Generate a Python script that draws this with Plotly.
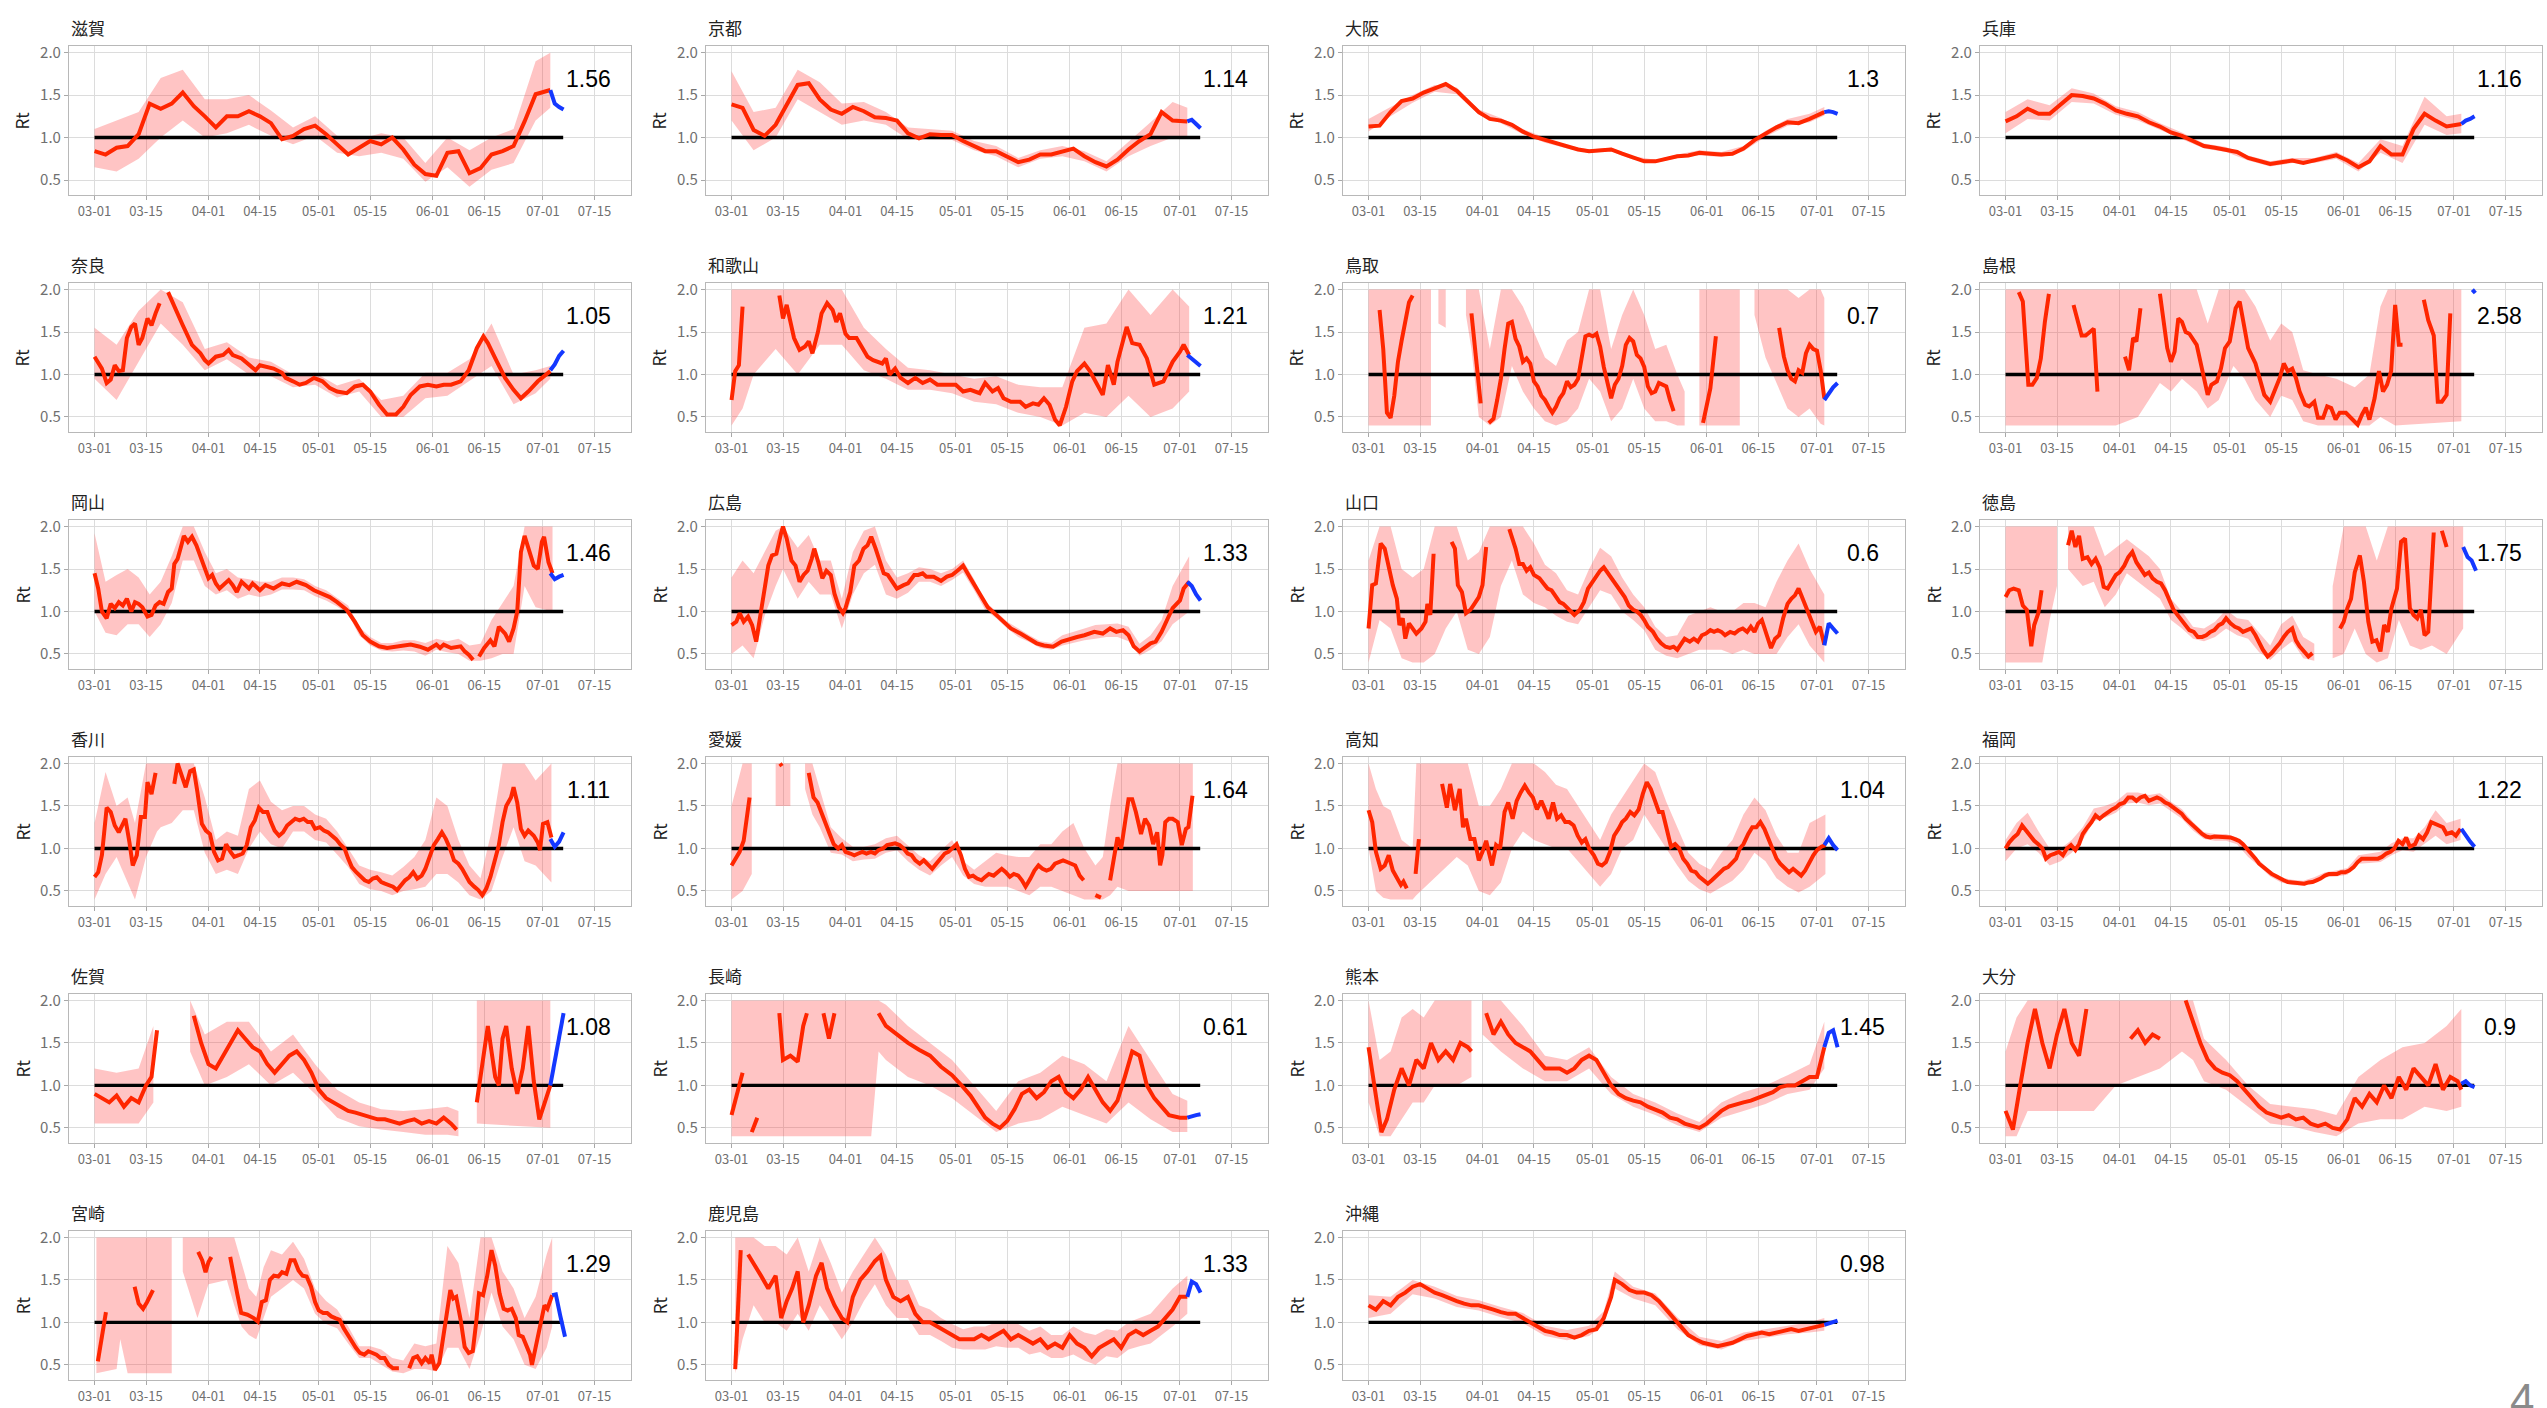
import pandas as pd
import plotly.graph_objects as go

BASE = pd.Timestamp("2020-03-01")
W, H = 2547, 1408

# ---------------- data (day offsets from 2020-03-01) ----------------
GRID = list(range(0, 121, 3)) + [124]
BAND_GRID = list(range(0, 121, 6)) + [124]
BLUE_DAYS = [124, 125.2, 126.4, 127.6]
HLINE_DAYS = [0, 127.5]
TICK_DAYS = [0, 14, 31, 45, 61, 75, 92, 106, 122, 136]
TICK_TEXT = ["03-01", "03-15", "04-01", "04-15", "05-01", "05-15", "06-01", "06-15", "07-01", "07-15"]

SHIGA_RT = [0.84,0.80,0.88,0.90,1.04,1.40,1.34,1.40,1.53,1.37,1.25,1.12,1.25,1.25,1.31,1.25,1.17,0.98,1.02,1.10,1.14,
            1.04,0.92,0.80,0.88,0.96,0.92,1.00,0.86,0.68,0.57,0.55,0.82,0.84,0.58,0.64,0.80,0.84,0.90,1.19,1.51,1.56]
SHIGA_LO = [0.65,0.60,0.75,1.00,1.20,1.00,1.05,1.15,1.02,0.92,1.02,0.82,0.78,0.82,0.75,0.48,0.65,0.42,0.62,0.70,1.20,1.35]
SHIGA_HI = [1.10,1.20,1.30,1.70,1.80,1.45,1.45,1.50,1.32,1.12,1.25,1.02,0.98,1.05,1.00,0.70,1.00,0.85,1.00,1.10,1.90,2.00]
SHIGA_BLUE = [1.56,1.40,1.36,1.33]

KYOTO_RT = [1.39,1.35,1.09,1.02,1.15,1.39,1.62,1.64,1.45,1.33,1.28,1.36,1.31,1.24,1.23,1.20,1.05,0.99,1.04,1.03,1.03,
            0.96,0.90,0.84,0.84,0.78,0.71,0.74,0.80,0.80,0.84,0.87,0.78,0.71,0.66,0.74,0.86,0.96,1.04,1.30,1.20,1.19]
KYOTO_LO = [1.20,0.85,1.00,1.45,1.30,1.15,1.20,1.15,0.98,0.98,0.97,0.85,0.78,0.65,0.75,0.78,0.72,0.60,0.78,0.90,1.00,1.00]
KYOTO_HI = [1.78,1.30,1.35,1.80,1.65,1.40,1.42,1.30,1.12,1.10,1.08,0.96,0.90,0.76,0.85,0.90,0.84,0.72,0.95,1.18,1.42,1.35]
KYOTO_BLUE = [1.19,1.21,1.16,1.11]

OSAKA_RT = [1.13,1.14,1.30,1.43,1.46,1.53,1.58,1.63,1.55,1.43,1.30,1.22,1.20,1.15,1.07,1.01,0.97,0.94,0.89,0.86,0.84,
            0.85,0.86,0.81,0.76,0.72,0.72,0.75,0.78,0.79,0.82,0.81,0.80,0.81,0.87,0.97,1.05,1.12,1.18,1.17,1.22,1.30]
OSAKA_LO = [1.07,1.25,1.41,1.54,1.51,1.27,1.17,1.04,0.94,0.87,0.82,0.84,0.74,0.70,0.76,0.79,0.77,0.84,1.01,1.14,1.18,1.26]
OSAKA_HI = [1.22,1.36,1.50,1.62,1.59,1.33,1.23,1.10,1.00,0.91,0.86,0.88,0.78,0.74,0.80,0.85,0.83,0.90,1.08,1.22,1.28,1.36]
OSAKA_BLUE = [1.30,1.31,1.30,1.28]

HYOGO_RT = [1.19,1.25,1.34,1.28,1.28,1.39,1.50,1.49,1.46,1.40,1.32,1.28,1.25,1.18,1.13,1.06,1.02,0.96,0.90,0.88,0.86,
            0.83,0.76,0.72,0.69,0.71,0.73,0.70,0.73,0.76,0.79,0.73,0.65,0.72,0.90,0.80,0.80,1.10,1.28,1.20,1.13,1.16]
HYOGO_LO = [1.05,1.22,1.20,1.42,1.40,1.27,1.20,1.09,0.98,0.87,0.83,0.73,0.66,0.70,0.70,0.75,0.60,0.82,0.70,1.15,1.03,1.05]
HYOGO_HI = [1.30,1.45,1.38,1.58,1.52,1.37,1.30,1.17,1.06,0.93,0.89,0.79,0.72,0.76,0.76,0.83,0.70,0.98,0.90,1.48,1.25,1.28]
HYOGO_BLUE = [1.16,1.20,1.22,1.25]

NARA_RT = [(0,1.21),(2,1.07),(3.3,0.90),(4.4,0.94),(5.5,1.11),(6.6,1.04),(7.7,1.05),(8.8,1.43),(10,1.56),(11,1.60),(12,1.35),
           (13,1.43),(14.4,1.66),(15.5,1.58),(16.6,1.72),(17.7,1.84),(18.5,None),(20,1.97),(22,1.77),(24,1.58),(26.5,1.35),
           (28.8,1.25),(30,1.17),(31,1.13),(33,1.21),(35,1.23),(36.5,1.29),(37.6,1.23),(40,1.19),(42,1.11),(43.8,1.05),
           (45,1.11),(46.5,1.09),(48.7,1.07),(51,1.02),(52,0.96),(54,0.92),(55.8,0.88),(57.5,0.90),(59.7,0.96),(62,0.92),
           (64,0.84),(66,0.80),(68.6,0.78),(70.8,0.86),(73,0.88),(75,0.80),(77.4,0.645),(79.6,0.53),(82,0.53),(84,0.62),
           (86,0.76),(88.5,0.86),(90.7,0.88),(93,0.86),(95,0.88),(97,0.88),(99.6,0.92),(101.8,1.05),(104,1.31),(105.8,1.45),
           (107,1.37),(109.5,1.15),(111.7,0.96),(114,0.82),(116,0.72),(118,0.80),(120.6,0.92),(124,1.04)]
NARA_LO = [0.95,0.70,1.15,1.60,1.35,1.05,1.18,1.00,0.98,0.85,0.88,0.73,0.80,0.50,0.50,0.72,0.75,0.92,1.10,0.65,0.78,0.95]
NARA_HI = [1.55,1.35,1.75,2.00,1.85,1.30,1.38,1.20,1.15,1.00,1.02,0.87,0.95,0.70,0.75,1.02,1.02,1.18,1.60,1.00,1.05,1.10]
NARA_BLUE = [1.05,1.12,1.22,1.28]

WAKAYAMA_RT = [(0,0.70),(1,1.04),(2,1.11),(3,1.80),(3.5,None),(13,1.93),(14,1.66),(15,1.82),(17,1.43),(18.5,1.29),(20,1.33),
               (21,1.39),(22,1.25),(23.5,1.50),(24.5,1.72),(26,1.84),(27.5,1.76),(28.5,1.62),(29.5,1.72),(31,1.48),(32,1.43),
               (34,1.43),(35.5,1.31),(37,1.21),(38.5,1.17),(41,1.13),(42,1.19),(43,1.00),(44.5,1.07),(46,0.96),(48,0.90),
               (50,0.96),(52,0.90),(54,0.94),(56,0.88),(59,0.88),(61,0.88),(63,0.80),(65,0.82),(67.5,0.78),(69,0.90),
               (71,0.80),(72.5,0.84),(74,0.72),(76,0.68),(78.5,0.68),(80,0.62),(82,0.66),(83.5,0.645),(85,0.72),(86.5,0.645),
               (88,0.47),(89.3,0.40),(91,0.62),(92.7,0.92),(94,1.04),(96,1.13),(97.5,1.04),(99,0.92),(101,0.76),(102.4,1.11),
               (104,0.88),(105,1.15),(107.5,1.56),(109,1.37),(111,1.35),(113,1.19),(115,0.88),(117.5,0.92),(120,1.15),
               (122,1.27),(123,1.35),(124.5,1.23)]
WAKAYAMA_BAND = [(0,0.40,2.0),(3,0.60,2.0),(6,1.00,2.0),(12,1.30,2.0),(18,1.00,2.0),(24,1.35,2.0),(30,1.35,2.0),(36,1.05,1.55),
                 (42,0.95,1.30),(48,0.82,1.08),(54,0.82,1.05),(60,0.78,1.00),(66,0.68,0.95),(72,0.65,0.98),(78,0.55,0.88),
                 (84,0.50,0.85),(90,0.40,0.85),(96,0.55,1.55),(102,0.50,1.60),(108,0.75,2.0),(114,0.50,1.70),(120,0.60,2.0),
                 (124.5,0.80,1.80)]
WAKAYAMA_BLUE = [1.23,1.19,1.14,1.10]

TOTTORI_RT = [(3,1.76),(4,1.30),(5,0.55),(6,0.49),(7,0.75),(8,1.15),(9,1.40),(10,1.60),(11,1.85),(12,1.93),(12.5,None),
              (28,1.72),(29,1.31),(30.5,0.66),(31,None),(32.7,0.43),(34,0.48),(35,0.70),(36,0.95),(37,1.30),(38,1.60),
              (39,1.62),(40,1.42),(41,1.33),(42,1.15),(43,1.19),(44,1.13),(45,0.92),(46,0.86),(47,0.75),(48,0.70),(49,0.62),
              (50,0.55),(51,0.62),(52,0.72),(53,0.78),(54,0.92),(55,0.85),(56,0.88),(57,0.95),(58,1.20),(59,1.45),(60,1.47),
              (61,1.45),(62,1.48),(63,1.33),(64,1.09),(65,0.88),(66,0.72),(67,0.88),(68,0.95),(69,1.10),(70,1.35),(71,1.43),
              (72,1.39),(73,1.23),(74,1.19),(75,1.09),(76,0.86),(77,0.78),(78,0.80),(79,0.90),(80,0.88),(81,0.86),(82,0.70),
              (83,0.57),(83.5,None),(91,0.43),(93,0.84),(94.5,1.45),(95,None),(111.7,1.55),(113,1.21),(114,1.05),(115,0.95),
              (116,0.92),(117,1.05),(118,1.02),(119,1.25),(120,1.35),(121,1.30),(122,1.28),(123,1.05),(124,0.72)]
TOTTORI_BAND = [(0,0.40,2.0),(17,0.40,2.0),(17.5,None,None),(19,1.60,2.0),(21,1.55,2.0),(21.5,None,None),(26.5,1.70,2.0),
                (28,1.30,2.0),(30,0.50,2.0),(33,0.40,1.30),(36,0.50,2.0),(39,1.10,2.0),(42,0.80,1.80),(45,0.60,1.50),
                (48,0.45,1.20),(51,0.40,1.10),(54,0.45,1.40),(57,0.60,1.50),(60,0.95,2.0),(63,0.80,2.0),(66,0.45,1.30),
                (69,0.60,1.70),(72,0.95,2.0),(75,0.60,1.70),(78,0.45,1.30),(81,0.45,1.35),(84,0.40,1.00),(86,0.40,0.80),
                (86.5,None,None),(90,0.40,2.0),(101,0.40,2.0),(101.5,None,None),(105,1.70,2.0),(108,1.20,2.0),(111,0.90,2.0),
                (114,0.60,2.0),(117,0.50,1.90),(120,0.60,2.0),(123,0.42,2.0),(124,0.40,1.90)]
TOTTORI_BLUE = [0.70,0.78,0.85,0.90]

SHIMANE_RT = [(3.6,1.97),(4.7,1.86),(6.2,0.88),(7.3,0.88),(8.5,0.96),(9.6,1.19),(10.7,1.62),(11.8,1.95),(12.2,None),
              (18.5,1.82),(19.6,1.62),(20.7,1.46),(21.8,1.46),(23,1.50),(24,1.54),(25,0.80),(25.5,None),(32.5,1.21),
              (33.6,1.05),(34.7,1.43),(35.6,1.39),(36.7,1.78),(37.2,None),(42,1.95),(43,1.58),(44,1.31),(45,1.15),(46,1.27),
              (47,1.66),(48,1.62),(49,1.50),(50,1.48),(52,1.35),(53,1.15),(54,0.96),(55,0.76),(56,0.88),(57.5,0.92),
              (58.6,1.07),(59.7,1.31),(61,1.39),(62.6,1.78),(63.7,1.86),(65,1.58),(66,1.31),(68,1.13),(69,0.96),(70.4,0.76),
              (72,0.68),(73,0.80),(74.6,0.96),(75.7,1.13),(76.8,1.04),(78,1.07),(79,0.96),(80,0.80),(81.5,0.645),
              (82.6,0.625),(84,0.68),(85,0.49),(86.4,0.49),(87.5,0.625),(88.6,0.605),(89.8,0.47),(90.9,0.55),(92.6,0.55),
              (94,0.49),(95.8,0.41),(97,0.53),(98,0.61),(99,0.47),(100.4,0.72),(101.6,1.04),(102.7,0.80),(103.8,0.88),
              (104.9,1.04),(106,1.82),(107,1.35),(108,1.35),(108.5,None),(113.8,1.88),(115,1.64),(116.5,1.46),(117.6,0.68),
              (118.7,0.68),(120,0.76),(121,1.72)]
SHIMANE_BAND = [(0,0.40,2.0),(30,0.40,2.0),(36,0.50,2.0),(42,0.90,2.0),(45,0.80,2.0),(48,0.95,2.0),(52,0.80,2.0),
                (55,0.60,1.60),(58,0.70,2.0),(62,1.10,2.0),(65,0.95,2.0),(68,0.70,1.80),(72,0.50,1.40),(75,0.75,1.60),
                (78,0.70,1.50),(81,0.45,1.05),(85,0.40,1.00),(90,0.40,0.95),(95,0.40,0.85),(99,0.40,1.00),(102,0.50,1.80),
                (104,0.45,2.0),(106,0.40,2.0),(124,0.45,2.0)]
SHIMANE_BLUE = [(127,2.0),(127.8,1.96)]

OKAYAMA_RT = [(0,1.45),(1,1.27),(2,1.00),(3.3,0.92),(4.4,1.09),(5.5,1.04),(6.6,1.11),(7.7,1.07),(8.8,1.15),(10,1.00),(11,1.11),
              (12,1.09),(13,1.05),(14.4,0.94),(15.5,0.96),(16.6,1.07),(17.7,1.11),(18.8,1.09),(20,1.23),(21,1.27),(21.7,1.56),
              (22.6,1.62),(23.5,1.76),(24.3,1.89),(25.4,1.82),(26.5,1.88),(27.7,1.78),(28.8,1.64),(30,1.50),(31,1.39),
              (32,1.43),(33,1.33),(34,1.27),(35,1.31),(36.5,1.37),(37.6,1.31),(38.7,1.23),(40,1.35),(42,1.27),(43,1.33),
              (45,1.25),(46.5,1.31),(48.7,1.27),(51,1.33),(53,1.31),(55,1.35),(57.5,1.31),(59.7,1.25),(62,1.21),(64,1.17),
              (66,1.11),(68.6,1.02),(70.8,0.88),(73,0.72),(75,0.645),(77.4,0.59),(79.6,0.57),(82,0.585),(84,0.60),(86,0.61),
              (88.5,0.585),(90.7,0.55),(93,0.61),(94,0.57),(95,0.61),(97,0.57),(99.6,0.59),(100.7,0.53),(101.8,0.49),
              (103,0.43),(103.8,None),(104.6,0.47),(106,0.57),(107.7,0.66),(108.8,0.59),(110,0.82),(111.7,0.74),(112.8,0.645),
              (114,0.80),(115,1.00),(116,1.70),(117,1.89),(118,1.74),(119.5,1.54),(120.6,1.50),(121.7,1.82),(122.3,1.88),
              (123.5,1.58),(124.6,1.45)]
OKAYAMA_BAND = [(0,1.00,1.92),(3,0.75,1.35),(6,0.72,1.43),(9,0.85,1.50),(12,0.85,1.40),(15,0.70,1.20),(18,0.85,1.35),
                (21,1.10,1.65),(24,1.60,2.00),(27,1.60,2.00),(30,1.30,1.70),(33,1.20,1.45),(36,1.25,1.50),(39,1.15,1.40),
                (42,1.20,1.38),(45,1.17,1.35),(48,1.20,1.35),(51,1.26,1.40),(54,1.26,1.40),(57,1.25,1.38),(60,1.18,1.30),
                (63,1.13,1.25),(66,1.06,1.16),(69,0.97,1.07),(72,0.72,0.82),(75,0.60,0.70),(78,0.54,0.63),(81,0.53,0.63),
                (84,0.54,0.66),(87,0.53,0.66),(90,0.48,0.63),(93,0.55,0.68),(96,0.52,0.65),(99,0.50,0.68),(102,0.42,0.60),
                (105,0.42,0.62),(108,0.45,0.90),(111,0.50,1.10),(114,0.50,1.30),(117,1.30,2.00),(120,1.05,2.00),
                (124.6,1.00,2.00)]
OKAYAMA_BLUE = [1.45,1.38,1.41,1.43]

HIROSHIMA_RT = [(0,0.84),(1.3,0.88),(2.2,0.98),(3.3,0.88),(4.5,0.94),(5.6,0.84),(6.7,0.645),(7.8,0.96),(8.9,1.27),(10,1.54),
                (11,1.66),(12.2,1.68),(13.4,1.91),(14,2.00),(15,1.86),(16.3,1.60),(17.4,1.54),(18.5,1.35),(19.6,1.43),
                (20.7,1.48),(21.8,1.62),(22.5,1.74),(23.6,1.58),(24.7,1.39),(25.8,1.48),(27,1.43),(28,1.21),(29.2,1.05),
                (30.3,0.98),(31,1.04),(32.3,1.23),(33.4,1.54),(34.7,1.60),(35.9,1.74),(37,1.78),(38,1.88),(39.2,1.74),
                (40.3,1.58),(41.4,1.45),(42.5,1.43),(43.6,1.35),(45,1.27),(46.8,1.31),(48,1.33),(49.7,1.43),(50.8,1.43),
                (52,1.45),(53,1.41),(55,1.41),(57,1.36),(58.6,1.41),(60,1.43),(62,1.50),(63,1.54),(65,1.39),(67.5,1.21),
                (69.7,1.05),(72,0.96),(74,0.88),(76,0.80),(78.6,0.74),(81,0.68),(83,0.625),(85,0.60),(87.5,0.585),
                (89.8,0.645),(92,0.68),(94,0.70),(96,0.72),(98.7,0.76),(101,0.74),(103,0.80),(104.7,0.76),(106.5,0.78),
                (108,0.72),(109.4,0.59),(111,0.53),(112.7,0.59),(114,0.625),(115.4,0.645),(117,0.76),(118.7,0.92),(120,1.04),
                (122,1.13),(123,1.27),(124.5,1.35)]
HIROSHIMA_BAND = [(0,0.50,1.40),(3,0.60,1.60),(6,0.45,1.45),(9,0.95,1.70),(12,1.30,1.95),(14,1.50,2.00),(18,1.15,1.75),
                  (21,1.35,1.90),(24,1.20,1.60),(27,1.20,1.60),(30,0.80,1.15),(33,1.20,1.70),(36,1.45,1.95),(39,1.55,2.00),
                  (42,1.20,1.60),(45,1.15,1.40),(48,1.22,1.45),(51,1.35,1.52),(54,1.35,1.50),(57,1.30,1.45),(60,1.37,1.50),
                  (63,1.46,1.60),(66,1.25,1.38),(69,1.02,1.12),(72,0.92,1.00),(75,0.80,0.88),(78,0.70,0.80),(81,0.64,0.72),
                  (84,0.57,0.65),(87,0.55,0.63),(90,0.60,0.72),(93,0.63,0.76),(96,0.66,0.80),(99,0.68,0.84),(102,0.70,0.85),
                  (105,0.70,0.86),(108,0.65,0.82),(111,0.48,0.62),(114,0.55,0.72),(117,0.65,0.90),(120,0.85,1.30),
                  (124.5,1.00,1.65)]
HIROSHIMA_BLUE = [1.35,1.30,1.20,1.13]

YAMAGUCHI_RT = [(0,0.80),(1,1.31),(2,1.33),(3.3,1.80),(4.4,1.74),(5.5,1.52),(6.6,1.31),(7.7,1.15),(8.4,0.84),(9.3,0.92),
                (10,0.68),(11,0.86),(12,0.80),(13,0.74),(14.4,0.80),(15.5,0.88),(16,1.09),(16.8,0.96),(17.7,1.68),(18.2,None),
                (22.6,1.82),(23.5,1.74),(24.3,1.31),(25.4,1.23),(26.5,0.98),(27.7,1.02),(28.8,1.09),(30,1.17),(31,1.31),
                (32,1.76),(32.5,None),(38.3,1.97),(40,1.74),(41,1.56),(42,1.56),(43,1.48),(44,1.52),(45,1.43),(46.5,1.39),
                (47.6,1.33),(48.7,1.27),(49.8,1.25),(51,1.17),(52,1.11),(53,1.09),(54,1.05),(55,1.00),(56,0.96),(57.5,1.02),
                (58.6,1.11),(59.7,1.27),(61,1.35),(62,1.43),(63,1.48),(64,1.52),(65,1.46),(66,1.39),(67.5,1.31),(68.6,1.25),
                (69.7,1.17),(70.8,1.07),(72,1.02),(73,1.00),(74,0.96),(75,0.90),(76,0.82),(77.4,0.76),(78.5,0.68),
                (79.6,0.625),(80.8,0.585),(82,0.57),(83,0.585),(84,0.55),(85,0.61),(86,0.68),(87.4,0.645),(88.5,0.68),
                (89.6,0.645),(90.7,0.72),(91.8,0.74),(93,0.78),(94,0.76),(95,0.78),(96,0.76),(97,0.72),(98.4,0.76),
                (99.6,0.74),(100.7,0.78),(101.8,0.80),(103,0.76),(104,0.82),(105,0.76),(106,0.86),(107,0.90),(108,0.76),
                (109.5,0.57),(110.6,0.68),(111.7,0.72),(112.8,0.92),(114,1.09),(115,1.15),(116,1.19),(117,1.27),(118,1.15),
                (119.5,1.00),(120.6,0.88),(121.7,0.76),(122.8,0.82),(124,0.61)]
YAMAGUCHI_BAND = [(0,0.40,1.60),(3,0.90,2.0),(6,0.80,2.0),(9,0.45,1.50),(12,0.40,1.40),(15,0.40,1.50),(18,0.50,2.0),
                  (21,0.80,2.0),(24,1.00,2.0),(27,0.55,1.60),(30,0.50,1.70),(33,0.70,2.0),(36,1.30,2.0),(39,1.60,2.0),
                  (42,1.20,2.0),(45,1.10,1.80),(48,1.05,1.55),(51,0.95,1.45),(54,0.88,1.25),(57,0.85,1.20),(60,1.05,1.50),
                  (63,1.25,1.75),(66,1.20,1.65),(69,1.00,1.40),(72,0.90,1.20),(75,0.78,1.05),(78,0.55,0.82),(81,0.48,0.70),
                  (84,0.45,0.72),(87,0.50,0.95),(90,0.55,1.00),(93,0.55,1.05),(96,0.55,1.00),(99,0.50,1.00),(102,0.55,1.10),
                  (105,0.50,1.10),(108,0.50,1.05),(111,0.50,1.35),(114,0.70,1.60),(117,0.85,1.80),(120,0.60,1.50),
                  (124,0.40,1.20)]
YAMAGUCHI_BLUE = [0.60,0.86,0.80,0.74]

TOKUSHIMA_RT = [(0,1.17),(1,1.25),(2.2,1.27),(3.6,1.25),(4.7,1.07),(5.8,1.02),(7,0.59),(7.8,0.84),(8.9,0.98),(9.8,1.25),
                (10.3,None),(17,1.78),(18,1.95),(19,1.76),(20,1.89),(21,1.62),(22.3,1.64),(23.4,1.56),(24.5,1.62),(25.6,1.52),
                (26.7,1.29),(27.8,1.27),(29,1.35),(30,1.43),(31,1.46),(32.3,1.54),(33.4,1.64),(34.5,1.70),(35.6,1.58),
                (36.7,1.50),(37.9,1.43),(39,1.46),(40,1.39),(41.2,1.35),(42.3,1.33),(43.4,1.25),(44.5,1.15),(45.7,1.02),
                (46.8,0.96),(47.9,0.90),(49,0.84),(50,0.78),(51.2,0.76),(52.3,0.70),(53.5,0.70),(54.6,0.72),(55.7,0.76),
                (56.8,0.78),(58,0.84),(59,0.86),(60,0.92),(61.2,0.86),(62.4,0.82),(63.5,0.80),(64.6,0.76),(65.7,0.78),
                (66.8,0.80),(68,0.72),(69,0.625),(70,0.55),(71.3,0.47),(72.4,0.51),(73.5,0.57),(74.6,0.625),(75.7,0.70),
                (76.8,0.76),(78,0.80),(79,0.66),(80,0.59),(81.3,0.53),(82.4,0.47),(83.5,0.51),(84,None),(91,0.80),(92,0.88),
                (93,1.04),(94,1.15),(95,1.46),(96.4,1.66),(97.5,1.35),(98.7,0.88),(99.8,0.645),(100.9,0.66),(102,0.53),
                (103,0.84),(104,0.76),(105,1.04),(106.5,1.27),(107.6,1.82),(108.7,1.86),(110,1.04),(111,0.96),(112,0.92),
                (113,1.02),(114,0.72),(115,0.76),(116.5,1.93),(117,None),(118.7,1.95),(120,1.76)]
TOKUSHIMA_BAND = [(0,0.40,2.0),(10,0.40,2.0),(12,0.90,2.0),(14,1.30,2.0),(15,None,None),(17,1.50,2.0),(21,1.30,2.0),
                  (24,1.35,2.0),(27,1.05,1.65),(30,1.20,1.75),(33,1.45,1.85),(36,1.35,1.75),(39,1.25,1.65),(42,1.15,1.50),
                  (45,0.90,1.15),(48,0.80,1.00),(51,0.68,0.82),(54,0.65,0.80),(57,0.70,0.88),(60,0.80,1.02),(63,0.72,0.92),
                  (66,0.68,0.90),(69,0.52,0.75),(72,0.43,0.60),(75,0.55,0.85),(78,0.65,0.95),(81,0.45,0.70),(84,0.42,0.62),
                  (85,None,None),(89,0.45,1.30),(92,0.50,2.0),(95,0.80,2.0),(98,0.50,2.0),(101,0.40,1.60),(104,0.45,2.0),
                  (107,0.90,2.0),(110,0.60,2.0),(113,0.55,2.0),(116,0.60,2.0),(120,0.50,2.0),(124.5,0.80,2.0)]
TOKUSHIMA_BLUE = [(124.5,1.76),(125.7,1.64),(126.8,1.60),(128,1.48)]

KAGAWA_RT = [(0,0.665),(1,0.72),(2,0.92),(3.3,1.48),(4.4,1.43),(5.5,1.27),(6.6,1.19),(7.7,1.29),(8.4,1.35),(9.5,1.07),
             (10.4,0.80),(11.5,0.92),(12.6,1.37),(13.7,1.37),(14.4,1.78),(15.5,1.64),(16.6,1.89),(17,None),(21.7,1.76),
             (22.6,2.00),(23.7,1.86),(24.8,1.72),(26,1.91),(27,1.93),(28,1.66),(29.2,1.29),(30.3,1.21),(31.4,1.17),
             (32.5,0.96),(33.6,0.86),(34.7,0.88),(35.8,1.05),(37,0.96),(38,0.90),(39.2,0.92),(40.3,0.94),(41.4,1.04),
             (42.5,1.25),(43.6,1.33),(44.7,1.48),(45.8,1.43),(47,1.43),(48,1.31),(49,1.21),(50.2,1.15),(51.3,1.19),
             (52.4,1.27),(53.5,1.31),(54.6,1.35),(55.8,1.33),(56.9,1.35),(58,1.31),(59,1.31),(60,1.23),(61.3,1.25),
             (62.4,1.21),(63.5,1.19),(64.6,1.15),(65.7,1.11),(66.8,1.05),(68,1.00),(69,0.88),(70,0.78),(71.2,0.72),
             (72.3,0.68),(73.5,0.625),(74.6,0.605),(75.7,0.645),(76.8,0.66),(78,0.605),(79,0.585),(80,0.57),(81.2,0.55),
             (82.3,0.51),(83.4,0.57),(84.5,0.625),(85.6,0.66),(86.7,0.72),(87.8,0.645),(89,0.68),(90,0.76),(91,0.88),
             (92.3,1.04),(93.4,1.11),(94.5,1.19),(95.6,1.11),(96.7,1.00),(97.8,0.86),(99,0.82),(100,0.76),(101,0.68),
             (102,0.605),(103.3,0.55),(104.4,0.51),(105.5,0.45),(106.6,0.53),(107.7,0.665),(108.8,0.84),(110,1.04),
             (111,1.31),(112,1.50),(113.3,1.60),(114,1.72),(115,1.54),(116,1.23),(117,1.15),(118,1.21),(119.5,1.15),
             (120.6,1.07),(121.2,0.98),(122,1.29),(123.2,1.31),(124.3,1.13)]
KAGAWA_BAND = [(0,0.40,1.30),(3,0.70,1.90),(6,0.90,1.50),(9,0.60,1.60),(11,0.40,1.30),(14,0.90,2.0),(17,1.20,2.0),
               (18,1.25,2.0),(21,1.30,2.0),(24,1.45,2.0),(27,1.45,2.0),(30,0.95,1.60),(33,0.70,1.10),(36,0.75,1.20),
               (39,0.70,1.15),(42,1.00,1.70),(45,1.20,1.80),(48,1.05,1.55),(51,1.00,1.45),(54,1.20,1.50),(57,1.20,1.50),
               (60,1.10,1.40),(63,1.07,1.35),(66,0.93,1.20),(69,0.78,1.00),(72,0.58,0.80),(75,0.52,0.75),(78,0.50,0.72),
               (81,0.45,0.68),(84,0.50,0.78),(87,0.52,0.90),(90,0.55,1.10),(93,0.70,1.60),(96,0.70,1.50),(99,0.60,1.10),
               (102,0.45,0.80),(105,0.40,0.65),(108,0.50,1.20),(111,0.90,2.0),(114,1.25,2.0),(117,0.85,2.0),(120,0.80,1.80),
               (124.3,0.60,2.0)]
KAGAWA_BLUE = [1.11,1.02,1.08,1.19]

EHIME_RT = [(0,0.80),(1,0.88),(2.2,0.96),(3.3,1.09),(4,1.31),(4.9,1.60),(5.2,None),(13.2,2.0),(13.7,1.97),(14,None),(21,1.89),
            (22.3,1.60),(23.4,1.54),(24.5,1.41),(25.6,1.27),(26.7,1.17),(27.8,1.05),(29,1.00),(30,1.04),(31,0.96),(32.3,0.94),
            (33.4,0.92),(34.5,0.94),(35.6,0.96),(36.7,0.94),(37.9,0.96),(39,0.94),(40,0.98),(41.2,1.00),(42.3,1.04),
            (43.4,1.05),(44.5,1.06),(45.7,1.04),(46.8,1.00),(47.9,0.94),(49,0.92),(50,0.86),(51.2,0.82),(52.3,0.86),
            (53.5,0.80),(54.6,0.76),(55.7,0.82),(56.8,0.88),(58,0.94),(59,0.96),(60,1.00),(61.2,1.05),(62.4,0.92),(63.5,0.76),
            (64.6,0.665),(65.7,0.68),(66.8,0.645),(68,0.625),(69,0.665),(70,0.70),(71.3,0.68),(72.4,0.72),(73.5,0.76),
            (74.6,0.72),(75.7,0.665),(76.8,0.70),(78,0.68),(79,0.625),(80,0.55),(81.3,0.645),(82.4,0.74),(83.5,0.80),
            (84.6,0.76),(85.7,0.74),(86.9,0.76),(88,0.82),(89,0.84),(90.2,0.86),(91.3,0.84),(92.4,0.82),(93.5,0.80),
            (94.7,0.68),(95.8,0.625),(96.3,None),(99,0.45),(100.5,0.42),(101,None),(103,0.625),(104,0.88),(105,1.13),
            (106,1.00),(107,1.31),(108,1.58),(109,1.58),(110,1.43),(111.4,1.17),(112.5,1.35),(113.6,1.27),(114.7,1.05),
            (115.8,1.19),(116.6,0.80),(117.2,0.92),(118,1.31),(119,1.35),(120,1.35),(121.4,1.31),(122.5,1.04),(123.6,1.23),
            (124.3,1.25),(125.4,1.62)]
EHIME_BAND = [(0,0.40,1.50),(3,0.50,2.0),(5.5,0.70,2.0),(6,None,None),(12,1.50,2.0),(16,1.50,2.0),(16.5,None,None),
              (20,1.70,2.0),(22,1.40,2.0),(24,1.25,1.70),(27,0.95,1.25),(30,0.93,1.12),(33,0.85,1.02),(36,0.87,1.02),
              (39,0.88,1.05),(42,0.95,1.12),(45,0.98,1.15),(48,0.85,1.03),(51,0.75,0.92),(54,0.68,0.85),(57,0.80,0.98),
              (60,0.90,1.10),(63,0.68,0.85),(66,0.58,0.75),(69,0.55,0.85),(72,0.55,0.95),(75,0.55,0.92),(78,0.50,0.90),
              (81,0.45,0.90),(84,0.55,1.05),(87,0.55,1.05),(90,0.50,1.20),(93,0.45,1.30),(96,0.40,1.00),(99,0.40,0.80),
              (101,0.40,0.90),(103,0.45,1.50),(105,0.55,2.0),(108,0.50,2.0),(125.5,0.50,2.0)]
EHIME_BLUE = []

KOCHI_RT = [(0,1.45),(1,1.31),(2,0.96),(3.3,0.76),(4.4,0.80),(5.5,0.92),(6.6,0.74),(7.7,0.665),(8.8,0.57),(9.5,0.61),
            (10.4,0.53),(11,None),(12.8,0.70),(13.7,1.11),(14,None),(20,1.76),(21.3,1.48),(22.2,1.76),(23.5,1.45),(24.8,1.70),
            (25.7,1.25),(26.5,1.35),(27.7,1.11),(28.8,1.11),(30,0.86),(31,0.96),(32,1.09),(32.7,0.96),(33.6,0.80),
            (34.7,1.04),(35.8,1.00),(37,1.43),(38,1.54),(39.2,1.35),(40.3,1.56),(41.4,1.66),(42.5,1.74),(43.6,1.66),
            (44.7,1.60),(45.8,1.46),(47,1.56),(48,1.46),(49,1.35),(50.2,1.54),(51.3,1.35),(52.4,1.39),(53.5,1.31),
            (54.6,1.31),(55.8,1.27),(56.9,1.15),(58,1.07),(59,1.11),(60,1.00),(61.3,0.92),(62.4,0.82),(63.5,0.80),
            (64.6,0.84),(65.7,0.96),(66.8,1.15),(68,1.23),(69,1.31),(70,1.35),(71.2,1.43),(72.3,1.39),(73.5,1.46),
            (74.6,1.64),(75.7,1.78),(76.8,1.70),(78,1.54),(79,1.43),(80,1.43),(81.2,1.23),(82.3,1.02),(83.4,1.05),
            (84.5,1.00),(85.6,0.88),(86.7,0.82),(87.8,0.74),(89,0.72),(90,0.665),(91,0.625),(92.3,0.585),(93.4,0.625),
            (94.5,0.665),(95.6,0.72),(96.7,0.76),(97.8,0.78),(99,0.84),(100,0.88),(101,1.00),(102,1.05),(103.3,1.17),
            (104.4,1.25),(105.5,1.25),(106.6,1.31),(107.7,1.23),(108.8,1.11),(110,0.96),(111,0.88),(112,0.82),(113.3,0.76),
            (114.4,0.72),(115.5,0.76),(116.6,0.72),(117.7,0.68),(118.8,0.74),(120,0.84),(121,0.92),(122,0.98),(123.2,1.02),
            (124.3,1.04)]
KOCHI_BAND = [(0,1.00,2.0),(2,0.50,1.70),(4,0.42,1.50),(6,0.40,1.45),(9,0.40,1.10),(12,0.40,1.00),(13,0.45,2.0),(24,0.90,2.0),
              (27,0.80,2.0),(30,0.50,1.50),(33,0.45,1.50),(36,0.60,1.70),(39,1.00,2.0),(42,1.20,2.0),(45,1.10,2.0),
              (48,1.05,1.90),(51,1.00,1.75),(54,1.00,1.70),(57,0.85,1.50),(60,0.70,1.30),(63,0.55,1.10),(66,0.70,1.40),
              (69,1.00,1.60),(72,1.10,1.80),(75,1.40,2.0),(78,1.20,1.90),(81,1.00,1.55),(84,0.80,1.25),(87,0.62,0.95),
              (90,0.52,0.82),(93,0.47,0.75),(96,0.55,0.95),(99,0.62,1.10),(102,0.75,1.40),(105,0.95,1.60),(108,0.85,1.45),
              (111,0.65,1.15),(114,0.55,0.95),(117,0.48,0.95),(120,0.55,1.30),(124.3,0.70,1.40)]
KOCHI_BLUE = [1.04,1.12,1.04,0.98]

FUKUOKA_RT = [(0,1.00),(1,1.07),(2.2,1.13),(3.3,1.17),(4.5,1.27),(5.6,1.21),(6.7,1.15),(7.8,1.09),(8.9,1.05),(10,1.00),
              (11,0.88),(12.2,0.92),(13.4,0.94),(14.5,0.96),(15.6,0.92),(16.7,1.00),(17.8,1.04),(19,0.98),(20,1.05),
              (21,1.17),(22.3,1.25),(23.4,1.31),(24.5,1.39),(25.6,1.35),(26.7,1.39),(27.8,1.43),(29,1.46),(30,1.48),
              (31,1.52),(32.3,1.54),(33.4,1.60),(34.5,1.60),(35.6,1.56),(36.7,1.60),(37.9,1.62),(39,1.56),(40,1.58),
              (41.2,1.60),(42.3,1.58),(43.4,1.54),(44.5,1.52),(45.7,1.48),(46.8,1.45),(47.9,1.41),(49,1.35),(50,1.31),
              (51.2,1.25),(52.3,1.21),(53.5,1.17),(54.6,1.14),(55.7,1.13),(56.8,1.14),(58,1.14),(59,1.13),(60,1.14),
              (61.2,1.13),(62.4,1.11),(63.5,1.09),(64.6,1.05),(65.7,1.00),(66.8,0.94),(68,0.88),(69,0.82),(70,0.78),
              (71.3,0.74),(72.4,0.70),(73.5,0.675),(74.6,0.645),(75.7,0.625),(76.8,0.605),(78,0.60),(79,0.595),(80,0.60),
              (81.3,0.585),(82.4,0.60),(83.5,0.605),(84.6,0.625),(85.7,0.645),(86.9,0.68),(88,0.70),(89,0.70),(90.2,0.70),
              (91.3,0.72),(92.4,0.72),(93.5,0.74),(94.7,0.78),(95.8,0.84),(96.9,0.88),(98,0.88),(99,0.88),(100.2,0.88),
              (101.3,0.88),(102.4,0.90),(103.6,0.94),(104.7,0.96),(105.8,1.00),(106.9,1.09),(108,1.05),(109,1.13),
              (110,1.02),(111.4,1.05),(112.5,1.15),(113.6,1.11),(114.7,1.19),(115.8,1.31),(117,1.29),(118,1.27),
              (119,1.25),(120,1.17),(121.4,1.19),(122.5,1.15),(123.8,1.23)]
FUKUOKA_BAND = [(0,0.85,1.10),(3,1.00,1.30),(6,1.05,1.42),(9,0.95,1.20),(12,0.80,1.00),(15,0.85,1.00),(18,0.95,1.10),
                (21,1.10,1.25),(24,1.32,1.47),(27,1.36,1.50),(30,1.42,1.55),(33,1.53,1.66),(36,1.54,1.66),(39,1.51,1.63),
                (42,1.53,1.65),(45,1.44,1.55),(48,1.35,1.46),(51,1.21,1.31),(54,1.11,1.19),(57,1.09,1.17),(60,1.09,1.17),
                (63,1.05,1.13),(66,0.90,0.98),(69,0.79,0.86),(72,0.67,0.74),(75,0.60,0.66),(78,0.57,0.63),(81,0.56,0.62),
                (84,0.59,0.66),(87,0.66,0.72),(90,0.67,0.74),(93,0.69,0.77),(96,0.82,0.92),(99,0.83,0.94),(102,0.84,0.96),
                (105,0.92,1.06),(108,0.98,1.12),(111,0.96,1.12),(114,1.05,1.25),(117,1.15,1.45),(120,1.05,1.30),
                (123.8,1.10,1.35)]
FUKUOKA_BLUE = [1.23,1.15,1.08,1.02]

SAGA_RT = [(0,0.90),(2,0.85),(4,0.80),(6,0.88),(8,0.75),(10,0.85),(12,0.80),(14,1.00),(15.5,1.10),(17,1.65),(17.5,None),
           (27,1.82),(29,1.50),(31,1.25),(33,1.20),(35,1.35),(37,1.50),(39,1.65),(41,1.55),(43,1.45),(45,1.40),(47,1.25),
           (49,1.15),(51,1.25),(53,1.35),(55,1.40),(57,1.30),(59,1.15),(61,0.95),(63,0.85),(65,0.80),(67,0.75),(69,0.70),
           (71,0.68),(73,0.65),(75,0.62),(77,0.60),(79,0.60),(81,0.57),(83,0.55),(85,0.58),(87,0.60),(89,0.55),(91,0.58),
           (93,0.55),(95,0.62),(97,0.55),(98.5,0.48),(99,None),(104,0.80),(106,1.40),(107,1.70),(109,1.10),(110,1.00),
           (111,1.55),(112,1.70),(113.5,1.20),(115,0.90),(116.5,1.20),(118,1.70),(119.5,1.05),(121,0.60),(122.5,0.80),
           (124,1.00)]
SAGA_BAND = [(0,0.55,1.20),(6,0.55,1.15),(12,0.55,1.20),(16,0.80,1.70),(17.5,None,None),(26,1.40,2.0),(30,1.00,1.60),
             (36,1.10,1.75),(42,1.25,1.75),(48,1.00,1.40),(54,1.15,1.60),(60,0.90,1.25),(66,0.62,0.95),(72,0.52,0.80),
             (78,0.48,0.72),(84,0.45,0.70),(90,0.42,0.72),(96,0.42,0.75),(99,0.40,0.70),(100,None,None),(104,0.55,2.0),
             (124,0.50,2.0)]
SAGA_BLUE = [1.00,1.30,1.58,1.85]

NAGASAKI_RT = [(0,0.65),(1.5,0.90),(3,1.15),(3.5,None),(5.5,0.45),(7,0.62),(7.5,None),(13,1.85),(14,1.30),(16,1.35),
               (18,1.28),(19.5,1.70),(20.5,1.85),(21,None),(25,1.85),(26.5,1.55),(28,1.85),(28.5,None),(40,1.85),(42,1.70),
               (45,1.60),(48,1.50),(51,1.42),(54,1.35),(57,1.22),(60,1.12),(63,0.98),(65,0.88),(67,0.75),(69,0.62),(71,0.55),
               (73,0.50),(75,0.58),(77,0.72),(79,0.90),(81,0.95),(83,0.85),(85,0.92),(87,1.05),(89,1.10),(91,0.92),(93,0.85),
               (95,0.95),(97,1.10),(99,0.95),(101,0.80),(103,0.70),(105,0.82),(107,1.10),(109,1.40),(111,1.35),(113,1.00),
               (115,0.85),(117,0.75),(119,0.65),(122,0.62),(124,0.62)]
NAGASAKI_BAND = [(0,0.40,2.0),(38,0.40,2.0),(40,1.40,2.0),(42,1.30,1.95),(48,1.10,1.70),(54,1.00,1.50),(60,0.85,1.30),
                 (66,0.65,1.00),(72,0.45,0.70),(78,0.55,1.05),(84,0.60,1.15),(90,0.75,1.35),(96,0.65,1.25),(102,0.55,1.05),
                 (108,0.80,1.70),(114,0.60,1.30),(120,0.45,0.90),(124,0.45,0.82)]
NAGASAKI_BLUE = [0.62,0.64,0.65,0.66]

KUMAMOTO_RT = [(0,1.45),(2,0.90),(3.5,0.45),(5,0.60),(7,0.95),(9,1.20),(11,1.00),(13,1.30),(15,1.20),(17,1.50),(19,1.30),
               (21,1.40),(23,1.30),(25,1.50),(27,1.45),(28,1.40),(29,None),(32,1.85),(34,1.60),(36,1.75),(38,1.60),(40,1.50),
               (42,1.45),(44,1.40),(46,1.30),(48,1.20),(50,1.20),(52,1.20),(54,1.15),(56,1.20),(58,1.30),(60,1.35),(62,1.30),
               (64,1.15),(66,1.00),(68,0.90),(70,0.85),(72,0.82),(74,0.80),(76,0.75),(78,0.72),(80,0.68),(82,0.62),(84,0.60),
               (86,0.55),(88,0.52),(90,0.50),(92,0.55),(94,0.62),(96,0.70),(98,0.75),(100,0.78),(102,0.80),(104,0.82),
               (106,0.85),(108,0.88),(110,0.92),(112,0.98),(114,1.00),(116,1.00),(118,1.05),(120,1.10),(122,1.10),(124,1.45)]
KUMAMOTO_BAND = [(0,0.80,2.0),(3,0.40,1.30),(6,0.40,1.40),(9,0.60,1.80),(12,0.80,1.90),(15,0.80,1.80),(18,1.00,2.0),
                 (24,1.00,2.0),(28,1.10,2.0),(29,None,None),(31,1.60,2.0),(36,1.40,2.0),(42,1.20,1.70),(48,1.05,1.35),
                 (54,1.05,1.30),(60,1.20,1.45),(66,0.90,1.10),(72,0.75,0.90),(78,0.65,0.80),(84,0.53,0.67),(90,0.45,0.57),
                 (96,0.62,0.80),(102,0.70,0.92),(108,0.78,1.00),(114,0.90,1.12),(120,0.95,1.25),(124,1.20,1.75)]
KUMAMOTO_BLUE = [1.45,1.62,1.65,1.45]

OITA_RT = [(0,0.70),(2,0.48),(4,1.00),(6,1.50),(8,1.90),(10,1.50),(12,1.20),(14,1.60),(16,1.90),(18,1.50),(20,1.35),(22,1.90),
           (22.5,None),(34,1.55),(36,1.65),(38,1.50),(40,1.60),(42,1.55),(42.5,None),(49,2.00),(51,1.75),(53,1.50),(55,1.30),
           (57,1.20),(59,1.15),(61,1.12),(63,1.05),(65,0.95),(67,0.85),(69,0.75),(71,0.68),(73,0.65),(75,0.62),(77,0.65),
           (79,0.60),(81,0.62),(83,0.55),(85,0.52),(87,0.55),(89,0.50),(91,0.48),(93,0.60),(95,0.85),(97,0.75),(99,0.90),
           (101,0.80),(103,1.00),(105,0.85),(107,1.10),(109,0.95),(111,1.20),(113,1.10),(115,1.00),(117,1.25),(119,0.95),
           (121,1.10),(123,1.05),(124,0.95)]
OITA_BAND = [(0,0.40,1.40),(3,0.40,1.80),(6,0.70,2.0),(24,0.70,2.0),(30,1.00,2.0),(36,1.10,2.0),(42,1.20,2.0),(48,1.40,2.0),
             (51,1.30,2.0),(54,1.05,1.55),(60,0.95,1.30),(66,0.75,1.00),(72,0.55,0.78),(78,0.52,0.75),(84,0.45,0.72),
             (90,0.40,0.65),(96,0.55,1.10),(102,0.60,1.30),(108,0.60,1.45),(114,0.75,1.50),(120,0.70,1.70),(124,0.75,1.90)]
OITA_BLUE = [1.02,1.05,1.00,0.98]

MIYAZAKI_RT = [(0.9,0.54),(3.1,1.12),(3.5,None),(10.9,1.42),(12,1.22),(13.2,1.16),(14.3,1.24),(15.9,1.38),(16.5,None),
               (28.2,1.83),(29.3,1.73),(30.2,1.59),(31,1.71),(31.8,1.77),(32.3,None),(36.9,1.77),(38,1.50),(38.8,1.34),
               (39.9,1.11),(41.6,1.09),(43.3,1.05),(44.4,1.01),(45.5,1.24),(46.6,1.26),(47.7,1.50),(48.8,1.55),(50,1.54),
               (51,1.59),(52.2,1.57),(53.3,1.73),(54.4,1.73),(55.5,1.61),(56.6,1.55),(57.7,1.54),(58.9,1.42),(60,1.24),
               (61,1.14),(62.2,1.11),(63.3,1.11),(64.4,1.07),(65.5,1.05),(66.7,1.03),(67.8,0.93),(68.9,0.85),(70,0.77),
               (71.1,0.70),(72.2,0.64),(73.4,0.62),(74.5,0.66),(75.6,0.64),(76.7,0.62),(77.8,0.58),(78.9,0.58),(80,0.50),
               (81.2,0.46),(82.8,0.46),(83.5,None),(85.6,0.46),(86.7,0.58),(87.8,0.60),(89,0.52),(90,0.58),(91.2,0.52),
               (91.7,0.62),(92.6,0.44),(93.8,0.52),(94.9,0.83),(96,1.16),(96.8,1.38),(97.6,1.28),(98.4,1.30),(99.6,1.03),
               (100.7,0.71),(101.8,0.64),(102.9,0.66),(103.8,0.99),(104.6,1.34),(105.7,1.32),(106.8,1.54),(108,1.85),
               (109,1.67),(110.2,1.34),(111.3,1.16),(112.4,1.14),(113.5,1.16),(114.6,1.05),(115.4,0.85),(116.5,0.83),
               (117.6,0.70),(118.5,0.62),(119,0.50),(120.2,0.75),(121.3,0.99),(122.4,1.20),(123.2,1.16),(124.5,1.32)]
MIYAZAKI_BAND = [(0.5,0.40,2.0),(6,0.45,2.0),(7,0.80,2.0),(9,0.40,2.0),(21,0.40,2.0),(21.5,None,None),(24,1.60,2.0),
                 (28,1.05,2.0),(31,1.45,2.0),(36,1.50,2.0),(38,1.20,2.0),(40,0.95,1.70),(42,0.85,1.40),(44,0.80,1.30),
                 (46,1.05,1.65),(48,1.30,1.85),(51,1.40,1.80),(54,1.50,1.95),(57,1.40,1.75),(60,1.10,1.40),(63,0.98,1.25),
                 (66,0.93,1.15),(69,0.75,0.95),(72,0.58,0.72),(75,0.58,0.72),(78,0.50,0.68),(81,0.42,0.58),(84,0.40,0.55),
                 (87,0.45,0.75),(90,0.45,0.72),(93,0.42,0.75),(96,0.70,1.90),(99,0.70,1.70),(102,0.45,1.05),(105,0.85,2.0),
                 (108,1.35,2.0),(111,0.95,1.60),(114,0.80,1.40),(117,0.50,1.05),(120,0.45,1.30),(123,0.70,1.80),
                 (124.5,0.95,2.0)]
MIYAZAKI_BLUE = [(124.5,1.32),(125.5,1.33),(126.7,1.08),(128,0.83)]

KAGOSHIMA_RT = [(1,0.45),(2.5,1.85),(3,None),(4.5,1.80),(6,1.70),(8,1.55),(10,1.40),(12,1.55),(13.5,1.05),(15,1.25),
                (16.5,1.40),(18,1.60),(19.5,1.00),(21,1.20),(23,1.55),(24.5,1.70),(26,1.40),(28,1.20),(30,1.05),(31.5,1.00),
                (33,1.30),(35,1.50),(37,1.60),(39,1.72),(40.5,1.78),(42,1.50),(44,1.30),(46,1.25),(48,1.30),(50,1.10),
                (52,1.00),(54,1.00),(56,0.95),(58,0.90),(60,0.85),(62,0.80),(64,0.80),(66,0.80),(68,0.85),(70,0.80),(72,0.85),
                (74,0.90),(76,0.80),(78,0.85),(80,0.80),(82,0.75),(84,0.80),(86,0.70),(88,0.75),(90,0.70),(92,0.85),(94,0.75),
                (96,0.70),(98,0.60),(100,0.70),(102,0.75),(104,0.80),(106,0.70),(108,0.85),(110,0.90),(112,0.85),(114,0.90),
                (116,0.95),(118,1.05),(120,1.15),(122,1.30),(124,1.30)]
KAGOSHIMA_BAND = [(1,0.40,2.0),(3,0.80,2.0),(6,1.20,2.0),(9,1.00,1.90),(12,1.00,1.90),(15,0.90,1.80),(18,1.10,2.0),
                  (21,0.90,1.60),(24,1.20,2.0),(27,1.00,1.70),(30,0.80,1.35),(33,1.00,1.60),(36,1.25,1.80),(39,1.45,2.0),
                  (42,1.20,1.80),(45,1.05,1.50),(48,1.05,1.50),(51,0.85,1.20),(54,0.85,1.15),(57,0.78,1.05),(60,0.70,0.98),
                  (63,0.68,0.92),(66,0.68,0.95),(69,0.68,0.95),(72,0.72,1.00),(75,0.70,0.98),(78,0.70,0.98),(81,0.62,0.90),
                  (84,0.65,0.95),(87,0.58,0.85),(90,0.58,0.85),(93,0.62,0.95),(96,0.55,0.88),(99,0.50,0.85),(102,0.60,0.92),
                  (105,0.58,0.90),(108,0.68,1.00),(111,0.72,1.05),(114,0.75,1.10),(117,0.85,1.25),(120,0.95,1.40),
                  (124,1.10,1.55)]
KAGOSHIMA_BLUE = [1.30,1.48,1.45,1.35]

OKINAWA_RT = [(0,1.20),(2,1.15),(4,1.25),(6,1.20),(8,1.30),(10,1.35),(12,1.42),(14,1.45),(16,1.40),(18,1.35),(20,1.32),
              (22,1.28),(24,1.25),(26,1.22),(28,1.20),(30,1.20),(32,1.18),(34,1.15),(36,1.12),(38,1.10),(40,1.10),(42,1.05),
              (44,1.00),(46,0.95),(48,0.90),(50,0.88),(52,0.85),(54,0.85),(56,0.82),(58,0.85),(60,0.90),(62,0.92),(64,1.05),
              (66,1.30),(67,1.50),(69,1.45),(71,1.38),(73,1.35),(75,1.35),(77,1.32),(79,1.25),(81,1.15),(83,1.05),(85,0.95),
              (87,0.85),(89,0.80),(91,0.76),(93,0.74),(95,0.72),(97,0.74),(99,0.76),(101,0.80),(103,0.84),(105,0.86),
              (107,0.88),(109,0.86),(111,0.88),(113,0.90),(115,0.92),(117,0.90),(119,0.92),(121,0.95),(123,0.96),(124,0.97)]
OKINAWA_BAND = [(0,1.05,1.32),(6,1.10,1.30),(12,1.33,1.50),(18,1.28,1.42),(24,1.18,1.31),(30,1.14,1.26),(36,1.06,1.18),
                (42,0.99,1.11),(48,0.84,0.96),(54,0.79,0.91),(60,0.84,0.96),(64,0.97,1.13),(67,1.40,1.60),(72,1.28,1.42),
                (78,1.20,1.34),(84,0.92,1.06),(90,0.73,0.83),(96,0.68,0.78),(102,0.78,0.88),(108,0.82,0.92),(114,0.86,0.96),
                (120,0.88,1.00),(124,0.90,1.05)]
OKINAWA_BLUE = [0.97,0.99,1.01,1.02]

NAMES = ["滋賀", "京都", "大阪", "兵庫", "奈良", "和歌山", "鳥取", "島根", "岡山", "広島", "山口", "徳島",
         "香川", "愛媛", "高知", "福岡", "佐賀", "長崎", "熊本", "大分", "宮崎", "鹿児島", "沖縄"]
LABELS = ["1.56", "1.14", "1.3", "1.16", "1.05", "1.21", "0.7", "2.58", "1.46", "1.33", "0.6", "1.75",
          "1.11", "1.64", "1.04", "1.22", "1.08", "0.61", "1.45", "0.9", "1.29", "1.33", "0.98"]


def grid_pairs(vals):
    return list(zip(GRID, vals))


def band_grid(lo, hi):
    return list(zip(BAND_GRID, lo, hi))


def blue_pairs(vals):
    if vals and isinstance(vals[0], tuple):
        return vals
    return list(zip(BLUE_DAYS, vals))


SERIES = [
    (grid_pairs(SHIGA_RT), band_grid(SHIGA_LO, SHIGA_HI), blue_pairs(SHIGA_BLUE)),
    (grid_pairs(KYOTO_RT), band_grid(KYOTO_LO, KYOTO_HI), blue_pairs(KYOTO_BLUE)),
    (grid_pairs(OSAKA_RT), band_grid(OSAKA_LO, OSAKA_HI), blue_pairs(OSAKA_BLUE)),
    (grid_pairs(HYOGO_RT), band_grid(HYOGO_LO, HYOGO_HI), blue_pairs(HYOGO_BLUE)),
    (NARA_RT, band_grid(NARA_LO, NARA_HI), blue_pairs(NARA_BLUE)),
    (WAKAYAMA_RT, WAKAYAMA_BAND, blue_pairs(WAKAYAMA_BLUE)),
    (TOTTORI_RT, TOTTORI_BAND, blue_pairs(TOTTORI_BLUE)),
    (SHIMANE_RT, SHIMANE_BAND, blue_pairs(SHIMANE_BLUE)),
    (OKAYAMA_RT, OKAYAMA_BAND, blue_pairs(OKAYAMA_BLUE)),
    (HIROSHIMA_RT, HIROSHIMA_BAND, blue_pairs(HIROSHIMA_BLUE)),
    (YAMAGUCHI_RT, YAMAGUCHI_BAND, blue_pairs(YAMAGUCHI_BLUE)),
    (TOKUSHIMA_RT, TOKUSHIMA_BAND, blue_pairs(TOKUSHIMA_BLUE)),
    (KAGAWA_RT, KAGAWA_BAND, blue_pairs(KAGAWA_BLUE)),
    (EHIME_RT, EHIME_BAND, blue_pairs(EHIME_BLUE)),
    (KOCHI_RT, KOCHI_BAND, blue_pairs(KOCHI_BLUE)),
    (FUKUOKA_RT, FUKUOKA_BAND, blue_pairs(FUKUOKA_BLUE)),
    (SAGA_RT, SAGA_BAND, blue_pairs(SAGA_BLUE)),
    (NAGASAKI_RT, NAGASAKI_BAND, blue_pairs(NAGASAKI_BLUE)),
    (KUMAMOTO_RT, KUMAMOTO_BAND, blue_pairs(KUMAMOTO_BLUE)),
    (OITA_RT, OITA_BAND, blue_pairs(OITA_BLUE)),
    (MIYAZAKI_RT, MIYAZAKI_BAND, blue_pairs(MIYAZAKI_BLUE)),
    (KAGOSHIMA_RT, KAGOSHIMA_BAND, blue_pairs(KAGOSHIMA_BLUE)),
    (OKINAWA_RT, OKINAWA_BAND, blue_pairs(OKINAWA_BLUE)),
]


def dt(d):
    return (BASE + pd.Timedelta(days=float(d))).strftime("%Y-%m-%d %H:%M:%S")


def band_polygons(band):
    xs, ys, seg = [], [], []

    def flush():
        if len(seg) >= 2:
            xs.extend([dt(s[0]) for s in seg] + [dt(s[0]) for s in reversed(seg)])
            ys.extend([s[1] for s in seg] + [s[2] for s in reversed(seg)])
            xs.append(None)
            ys.append(None)
        seg.clear()

    for d, lo, hi in band:
        if lo is None or hi is None:
            flush()
        else:
            seg.append((d, lo, hi))
    flush()
    return xs, ys


# ---------------- layout geometry (pixels) ----------------
COL_LEFT = [69, 706, 1343, 1980]
PLOT_W = 562
ROW_TOP0, ROW_PITCH, PLOT_H = 41, 237.8, 150

RED = "#FF2600"
BLUE = "#1438FF"
PINK = "rgba(255,60,60,0.30)"
FONT = "Noto Sans CJK JP"

fig = go.Figure()
layout = dict(width=W, height=H, margin=dict(l=0, r=0, t=0, b=0), paper_bgcolor="white",
              plot_bgcolor="white", showlegend=False, annotations=[])

for i, (name, label, (rt, band, blue)) in enumerate(zip(NAMES, LABELS, SERIES)):
    r, c = divmod(i, 4)
    left = COL_LEFT[c]
    top = ROW_TOP0 + ROW_PITCH * r
    n = i + 1
    xa, ya = f"x{n}", f"y{n}"
    xk, yk = ("xaxis" if n == 1 else f"xaxis{n}"), ("yaxis" if n == 1 else f"yaxis{n}")

    bx, by = band_polygons(band)
    fig.add_trace(go.Scatter(x=bx, y=by, fill="toself", fillcolor=PINK, line=dict(width=0),
                             mode="lines", hoverinfo="skip", xaxis=xa, yaxis=ya))
    fig.add_trace(go.Scatter(x=[dt(d) for d in HLINE_DAYS], y=[1, 1], mode="lines",
                             line=dict(color="black", width=3.4), xaxis=xa, yaxis=ya))
    fig.add_trace(go.Scatter(x=[dt(d) for d, _ in rt], y=[v for _, v in rt], mode="lines",
                             line=dict(color=RED, width=4.0), connectgaps=False, xaxis=xa, yaxis=ya))
    if blue:
        fig.add_trace(go.Scatter(x=[dt(d) for d, _ in blue], y=[v for _, v in blue], mode="lines",
                                 line=dict(color=BLUE, width=4.0), xaxis=xa, yaxis=ya))

    layout[xk] = dict(domain=[left / W, (left + PLOT_W) / W], anchor=ya, type="date",
                      range=[dt(-6.95), dt(145.95)], tickvals=[dt(d) for d in TICK_DAYS], ticktext=TICK_TEXT,
                      showgrid=True, gridcolor="#DCDCDC", gridwidth=1.3, zeroline=False,
                      showline=True, mirror=True, linecolor="#B8B8B8", linewidth=1.2,
                      ticks="outside", ticklen=4, tickcolor="#A8A8A8", tickwidth=1.2,
                      tickfont=dict(family=FONT, size=13, color="#707070"))
    layout[yk] = dict(domain=[1 - (top + PLOT_H) / H, 1 - top / H], anchor=xa,
                      range=[0.32, 2.08], tickvals=[0.5, 1.0, 1.5, 2.0], ticktext=["0.5", "1.0", "1.5", "2.0"],
                      showgrid=True, gridcolor="#DCDCDC", gridwidth=1.3, zeroline=False,
                      showline=True, mirror=True, linecolor="#B8B8B8", linewidth=1.2,
                      ticks="outside", ticklen=4, tickcolor="#A8A8A8", tickwidth=1.2,
                      tickfont=dict(family=FONT, size=15, color="#707070"))

    layout["annotations"].append(dict(text=name, xref="paper", yref="paper", x=left / W,
                                      y=1 - (top - 18) / H, xanchor="left", yanchor="middle",
                                      showarrow=False, font=dict(family=FONT, size=17, color="#222222")))
    layout["annotations"].append(dict(text="Rt", xref="paper", yref="paper", x=(left - 47) / W,
                                      y=1 - (top + PLOT_H / 2) / H, xanchor="center", yanchor="middle",
                                      textangle=-90, showarrow=False,
                                      font=dict(family=FONT, size=17, color="#222222")))
    layout["annotations"].append(dict(text=label, xref=xa, yref=ya, x=dt(134.5), y=1.69,
                                      xanchor="center", yanchor="middle", showarrow=False,
                                      font=dict(family="Liberation Sans", size=23, color="black")))

layout["annotations"].append(dict(text="4", xref="paper", yref="paper", x=2522 / W, y=1 - 1373 / H,
                                  xanchor="center", yanchor="top", showarrow=False,
                                  font=dict(family="Liberation Sans", size=44, color="#8a8a8a")))

fig.update_layout(**layout)
fig.write_html("out.html", config={"displayModeBar": False},
               post_script="document.body.style.margin='0';")
